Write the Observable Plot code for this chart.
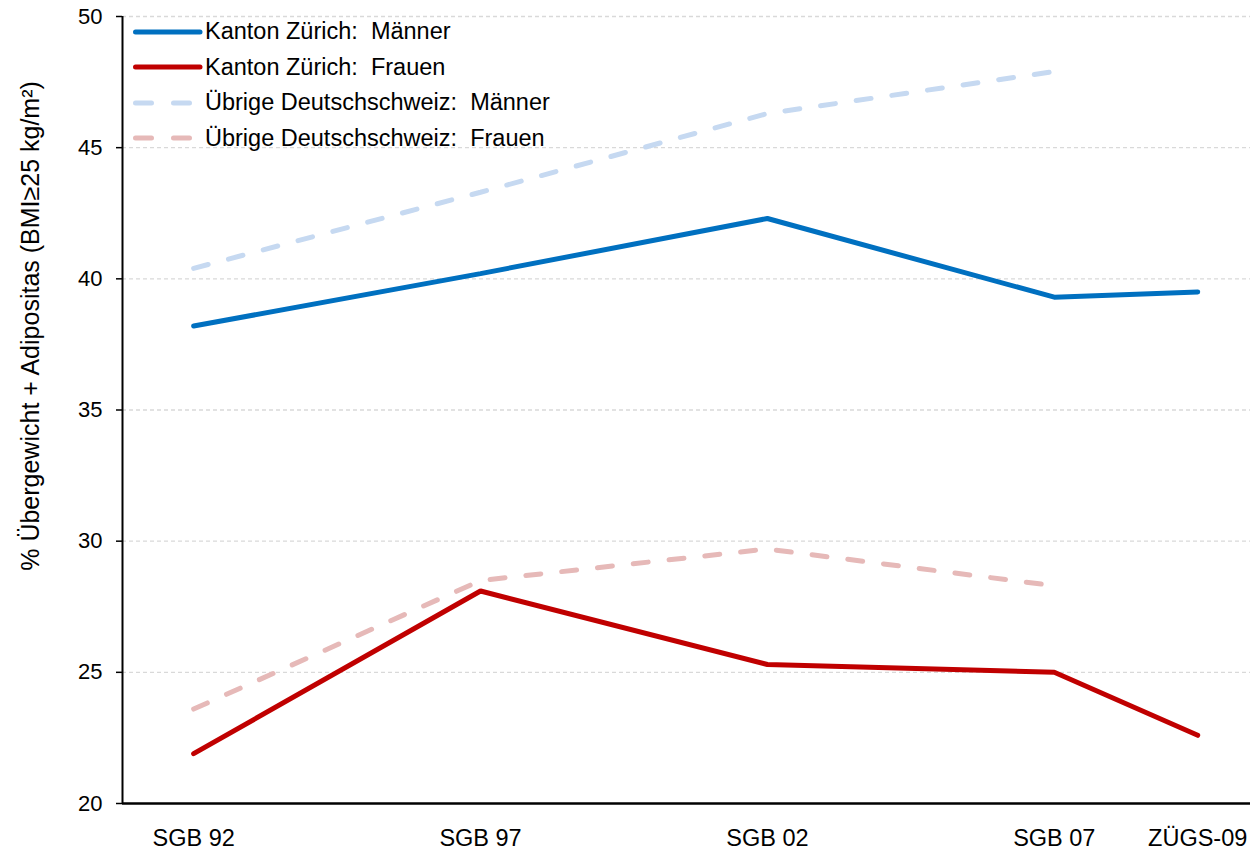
<!DOCTYPE html>
<html>
<head>
<meta charset="utf-8">
<script src="https://cdn.jsdelivr.net/npm/d3@7"></script>
<script src="https://cdn.jsdelivr.net/npm/@observablehq/plot@0.6"></script>
<style>
  html, body { margin: 0; padding: 0; background: #fff; }
  body { font-family: "Liberation Sans", Arial, sans-serif; }
  #wrap { position: relative; width: 1252px; height: 856px; }
  #legend { position: absolute; left: 131px; top: 14px; }
  .item { display: flex; align-items: center; height: 35.5px; font-size: 23.5px; color: #000; white-space: pre; }
  .item svg { margin-right: 2px; }
</style>
</head>
<body>
<div id="wrap"><div id="legend"></div></div>
<script>
const years = [1992, 1997, 2002, 2007, 2009.5];
const tickLabels = ["SGB 92", "SGB 97", "SGB 02", "SGB 07", "ZÜGS-09"];
const zhMaenner = [38.2, 40.2, 42.3, 39.3, 39.5];
const zhFrauen = [21.9, 28.1, 25.3, 25.0, 22.6];
const dsMaenner = [40.4, 43.3, 46.3, 47.9];
const dsFrauen = [23.6, 28.5, 29.7, 28.3];
const seriesNames = ["Kanton Zürich:  Männer", "Kanton Zürich:  Frauen", "Übrige Deutschschweiz:  Männer", "Übrige Deutschschweiz:  Frauen"];
const seriesColors = ["#0070C0", "#C00000", "#C6D9F1", "#E6B9B8"];
const seriesDash = [null, null, "15,21", "15,21"];
const yTicks = [20, 25, 30, 35, 40, 45, 50];
const yLabel = "% Übergewicht + Adipositas (BMI≥25 kg/m²)";

const seriesValues = [zhMaenner, zhFrauen, dsMaenner, dsFrauen];
const rows = [];
seriesValues.forEach((vals, s) => vals.forEach((v, i) => rows.push({series: s, year: years[i], value: v})));

const xDomain = [1990.76, 2010.42];
const marks = [
  Plot.gridY(yTicks.slice(1), {stroke: "#d9d9d9", strokeOpacity: 1, strokeDasharray: "4,3", strokeWidth: 1.3}),
  Plot.axisY({ticks: yTicks, tickSize: 6, tickPadding: 14, fontSize: 22, stroke: "#000", strokeWidth: 1.5, label: null}),
  Plot.text([yLabel], {frameAnchor: "left", rotate: -90, dx: -92, dy: -84, fontSize: 25, textAnchor: "middle", fill: "#000"}),
  Plot.axisX({ticks: years, tickFormat: (d) => tickLabels[years.indexOf(d)], tickSize: 0, tickPadding: 26, fontSize: 23.5, label: null}),
  Plot.ruleX([xDomain[0]], {y1: 20, y2: 50, stroke: "#000", strokeWidth: 2}),
  Plot.ruleY([20], {stroke: "#000", strokeWidth: 2.5})
];
// dashed series first (drawn behind solid ones)
[2, 3, 0, 1].forEach((s) => {
  marks.push(Plot.line(rows.filter((d) => d.series === s), {
    x: "year", y: "value", stroke: seriesColors[s], strokeWidth: 5,
    strokeDasharray: seriesDash[s] || undefined, strokeLinecap: "round", strokeLinejoin: "miter"
  }));
});

const chart = Plot.plot({
  width: 1252, height: 856,
  marginLeft: 122, marginRight: 2, marginTop: 16, marginBottom: 53,
  style: {fontFamily: "'Liberation Sans', Arial, sans-serif", color: "#000", background: "#fff"},
  x: {type: "linear", domain: xDomain},
  y: {domain: [20, 50]},
  marks
});
const wrap = document.getElementById("wrap");
wrap.insertBefore(chart, wrap.firstChild);

const legend = document.getElementById("legend");
seriesNames.forEach((name, i) => {
  const item = document.createElement("div");
  item.className = "item";
  const dash = seriesDash[i] ? ' stroke-dasharray="16,22"' : '';
  item.innerHTML = `<svg width="72" height="10"><line x1="4.5" y1="5" x2="69" y2="5" stroke="${seriesColors[i]}" stroke-width="5" stroke-linecap="round"${dash}/></svg><span>${name}</span>`;
  legend.appendChild(item);
});
</script>
</body>
</html>
